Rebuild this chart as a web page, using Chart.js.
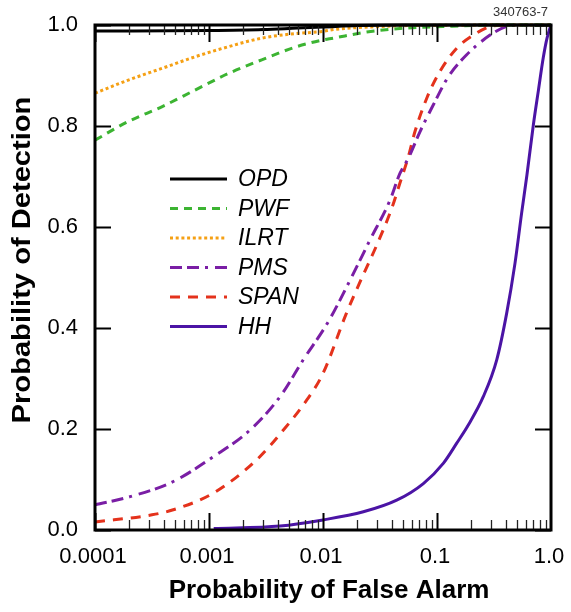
<!DOCTYPE html>
<html>
<head>
<meta charset="utf-8">
<script src="https://cdn.jsdelivr.net/npm/chart.js@4/dist/chart.umd.min.js"></script>
<style>
  html, body { margin: 0; padding: 0; background: #fff; }
  canvas { display: block; }
</style>
</head>
<body>
<canvas id="roc" width="571" height="612"></canvas>
<script>
// ROC curves: probability of detection versus probability of false alarm
const seriesNames = ['OPD', 'PWF', 'ILRT', 'PMS', 'SPAN', 'HH'];

const opdFa = [0.0001, 0.001, 0.003, 0.006, 0.01, 0.02, 0.05, 1];
const opdPd = [0.988, 0.989, 0.991, 0.994, 0.996, 0.999, 1.0, 1.0];

const pwfFa = [0.0001, 0.000196, 0.000385, 0.000753, 0.00148, 0.0029, 0.00568, 0.00977, 0.0123, 0.0242, 0.0473, 0.112, 0.316, 1];
const pwfPd = [0.772, 0.809, 0.838, 0.871, 0.904, 0.931, 0.956, 0.970, 0.974, 0.986, 0.993, 0.997, 1.0, 1.0];

const ilrtFa = [0.0001, 0.000196, 0.000385, 0.000753, 0.00148, 0.0029, 0.00568, 0.00977, 0.0123, 0.0251, 0.0631, 1];
const ilrtPd = [0.865, 0.891, 0.914, 0.937, 0.957, 0.974, 0.983, 0.987, 0.991, 0.996, 0.999, 1.0];

const pmsFa = [0.0001, 0.000203, 0.000486, 0.00109, 0.00229, 0.0042, 0.00671, 0.0111, 0.0173, 0.0258, 0.0387, 0.0473, 0.056, 0.071, 0.0929, 0.126, 0.182, 0.292, 0.408, 0.562];
const pmsPd = [0.05, 0.066, 0.096, 0.145, 0.198, 0.264, 0.337, 0.412, 0.495, 0.574, 0.653, 0.706, 0.736, 0.789, 0.842, 0.898, 0.941, 0.980, 0.997, 1.0];

const spanFa = [0.0001, 0.000316, 0.000486, 0.00109, 0.00262, 0.00449, 0.00719, 0.01, 0.0161, 0.0218, 0.0296, 0.0401, 0.0473, 0.056, 0.0641, 0.0813, 0.106, 0.149, 0.208, 0.292, 0.398];
const spanPd = [0.016, 0.030, 0.040, 0.073, 0.139, 0.198, 0.257, 0.31, 0.43, 0.498, 0.564, 0.637, 0.687, 0.739, 0.789, 0.855, 0.908, 0.954, 0.980, 0.997, 1.0];

const hhFa = [0.0011, 0.0042, 0.01, 0.0226, 0.0443, 0.0759, 0.1135, 0.149, 0.1905, 0.2547, 0.3342, 0.4083, 0.4831, 0.5521, 0.615, 0.700, 0.776, 0.855, 0.923, 1.0];
const hhPd = [0.003, 0.008, 0.020, 0.036, 0.059, 0.092, 0.132, 0.172, 0.21, 0.264, 0.337, 0.429, 0.528, 0.627, 0.703, 0.802, 0.871, 0.935, 0.974, 1.0];

const xTickValues = [0.0001, 0.001, 0.01, 0.1, 1];
const xTickLabels = ['0.0001', '0.001', '0.01', '0.1', '1.0'];
const yTickValues = [0, 0.2, 0.4, 0.6, 0.8, 1.0];
const yTickLabels = ['0.0', '0.2', '0.4', '0.6', '0.8', '1.0'];

const xTitle = 'Probability of False Alarm';
const yTitle = 'Probability of Detection';
const figureNumber = '340763-7';

// Line appearance per curve
const lineStyles = {
  OPD:  { color: '#000000', dash: [],                   width: 3 },
  PWF:  { color: '#3cb432', dash: [8, 6],               width: 3 },
  ILRT: { color: '#f5a014', dash: [3, 2.7],             width: 3 },
  PMS:  { color: '#7a1ea5', dash: [12, 5, 12, 6, 3, 7], width: 3 },
  SPAN: { color: '#e4321c', dash: [10, 8],              width: 3 },
  HH:   { color: '#4b14a5', dash: [],                   width: 3 }
};

const seriesData = {
  OPD: [opdFa, opdPd], PWF: [pwfFa, pwfPd], ILRT: [ilrtFa, ilrtPd],
  PMS: [pmsFa, pmsPd], SPAN: [spanFa, spanPd], HH: [hhFa, hhPd]
};

const toPoints = (xs, ys) => xs.map((x, i) => ({ x: x, y: ys[i] }));

const datasets = seriesNames.map(name => {
  const st = lineStyles[name];
  const [xs, ys] = seriesData[name];
  return {
    label: name,
    data: toPoints(xs, ys),
    borderColor: st.color,
    borderDash: st.dash,
    borderWidth: st.width,
    borderCapStyle: 'butt',
    pointRadius: 0,
    fill: false,
    cubicInterpolationMode: 'monotone',
    clip: 4
  };
});

const FONT = '"Liberation Sans", Arial, sans-serif';

// Text with an optional stretch (sx) along its reading direction
function drawText(ctx, text, x, y, align, rotation, sx) {
  ctx.save();
  ctx.translate(x, y);
  if (rotation) ctx.rotate(rotation);
  if (sx) ctx.scale(sx, 1);
  ctx.textAlign = align;
  ctx.textBaseline = 'middle';
  ctx.fillText(text, 0, 0);
  ctx.restore();
}

// Frame plus inward-pointing tick marks on all four sides
const frameTicks = {
  id: 'frameTicks',
  afterDatasetsDraw(chart) {
    const { ctx, chartArea: a, scales } = chart;
    const xs = scales.x, ys = scales.y;
    ctx.save();
    for (let e = -4; e < 0; e++) {
      for (let m = 1; m <= 9; m++) {
        const v = m * Math.pow(10, e);
        const px = Math.round(xs.getPixelForValue(v)) + 0.5;
        const len = m === 1 ? 17 : 10;
        ctx.lineWidth = m === 1 ? 2 : 1.3;
        ctx.strokeStyle = m === 1 ? '#000' : '#222';
        ctx.beginPath();
        ctx.moveTo(px, a.bottom); ctx.lineTo(px, a.bottom - len);
        ctx.moveTo(px, a.top); ctx.lineTo(px, a.top + len);
        ctx.stroke();
      }
    }
    ctx.lineWidth = 2;
    ctx.strokeStyle = '#000';
    yTickValues.forEach(v => {
      const py = Math.round(ys.getPixelForValue(v)) + 0.5;
      ctx.beginPath();
      ctx.moveTo(a.left, py); ctx.lineTo(a.left + 16, py);
      ctx.moveTo(a.right, py); ctx.lineTo(a.right - 16, py);
      ctx.stroke();
    });
    ctx.lineWidth = 3;
    ctx.strokeRect(a.left, a.top, a.right - a.left, a.bottom - a.top);
    ctx.restore();
  }
};

// Tick labels and axis titles, placed from the chart's scales
const axisText = {
  id: 'axisText',
  afterDraw(chart) {
    const { ctx, chartArea: a, scales } = chart;
    ctx.save();
    ctx.fillStyle = '#000';
    ctx.font = '22px ' + FONT;
    xTickValues.forEach((v, i) => {
      drawText(ctx, xTickLabels[i], scales.x.getPixelForValue(v) - 2, a.bottom + 27, 'center');
    });
    yTickValues.forEach((v, i) => {
      drawText(ctx, yTickLabels[i], a.left - 17, scales.y.getPixelForValue(v), 'right');
    });
    ctx.font = 'bold 26px ' + FONT;
    drawText(ctx, xTitle, (a.left + a.right) / 2 + 6, 591, 'center');
    drawText(ctx, yTitle, 23, 260, 'center', -Math.PI / 2, 1.12);
    ctx.fillStyle = '#333';
    ctx.font = '13px ' + FONT;
    drawText(ctx, figureNumber, 548, 12, 'right');
    ctx.restore();
  }
};

// Legend drawn inside the plot area
const insideLegend = {
  id: 'insideLegend',
  afterDatasetsDraw(chart) {
    const { ctx } = chart;
    ctx.save();
    chart.data.datasets.forEach((ds, i) => {
      const rowY = 179 + i * 29.5;
      ctx.strokeStyle = ds.borderColor;
      ctx.lineWidth = ds.borderWidth;
      ctx.setLineDash(ds.borderDash);
      ctx.lineCap = 'butt';
      ctx.beginPath();
      ctx.moveTo(170, rowY);
      ctx.lineTo(227, rowY);
      ctx.stroke();
      ctx.setLineDash([]);
      ctx.fillStyle = '#000';
      ctx.font = 'italic 23px ' + FONT;
      drawText(ctx, ds.label, 238, rowY + 1, 'left');
    });
    ctx.restore();
  }
};

new Chart(document.getElementById('roc'), {
  type: 'line',
  data: { datasets: datasets },
  options: {
    responsive: false,
    animation: false,
    devicePixelRatio: 1,
    layout: { padding: { top: 25, right: 20, left: 0, bottom: 0 } },
    plugins: { legend: { display: false }, tooltip: { enabled: false } },
    scales: {
      x: {
        type: 'logarithmic',
        min: 0.0001,
        max: 1,
        grid: { display: false, drawTicks: false },
        border: { display: false },
        afterBuildTicks: s => { s.ticks = xTickValues.map(v => ({ value: v })); },
        afterFit: s => { s.height = 82; },
        ticks: { display: false },
        title: { display: false }
      },
      y: {
        type: 'linear',
        min: 0,
        max: 1,
        grid: { display: false, drawTicks: false },
        border: { display: false },
        afterBuildTicks: s => { s.ticks = yTickValues.map(v => ({ value: v })); },
        afterFit: s => { s.width = 95; },
        ticks: { display: false },
        title: { display: false }
      }
    }
  },
  plugins: [frameTicks, insideLegend, axisText]
});
</script>
</body>
</html>
